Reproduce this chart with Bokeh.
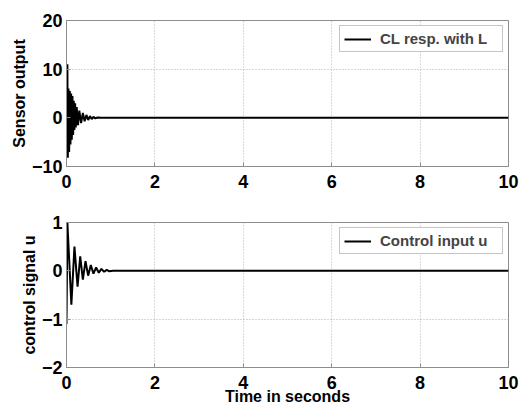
from bokeh.plotting import figure
from bokeh.layouts import column
from bokeh.models import Legend, LegendItem, FixedTicker
from bokeh.embed import file_html
from bokeh.resources import INLINE

# ---- data ----
t_sensor = [0.0, 0.01, 0.02, 0.03, 0.045, 0.06, 0.075, 0.09, 0.105, 0.12, 0.135, 0.15, 0.165,
            0.18, 0.195, 0.21, 0.23, 0.26, 0.29, 0.33, 0.37, 0.41, 0.45, 0.49, 0.53,
            0.57, 0.61, 0.65, 0.70, 0.80, 10.0]
y_sensor = [0.0, 5.0, 11.0, -8.2, 6.0, -7.0, 5.5, -5.5, 5.0, -4.5, 4.5, -3.5, 3.5,
            -2.5, 3.0, -2.0, 2.2, -1.5, 1.5, -1.1, 1.0, -0.7, 0.6, -0.45, 0.35,
            -0.25, 0.2, -0.12, 0.06, 0.0, 0.0]

t_u = [0.0, 0.02, 0.11, 0.18, 0.25, 0.31, 0.37, 0.43, 0.49, 0.55, 0.61, 0.67,
       0.73, 0.79, 0.85, 0.91, 0.97, 1.05, 10.0]
y_u = [-1.1, 1.0, -0.7, 0.5, -0.33, 0.3, -0.18, 0.2, -0.1, 0.12, -0.06, 0.07,
       -0.04, 0.04, -0.02, 0.02, -0.01, 0.0, 0.0]

x_ticks = [0, 2, 4, 6, 8, 10]
y1_ticks = [-10, 0, 10, 20]
y2_ticks = [-2, -1, 0, 1]

FONT = "Liberation Sans"
GRAY = "#8c8c8c"


def style(p, yticks, ylabel, xlabel=None):
    p.xaxis.ticker = FixedTicker(ticks=x_ticks)
    p.yaxis.ticker = FixedTicker(ticks=yticks)
    for ax in (p.xaxis[0], p.yaxis[0]):
        ax.major_label_text_font = FONT
        ax.major_label_text_font_style = "bold"
        ax.major_label_text_font_size = "18px"
        ax.major_label_text_color = "black"
        ax.axis_line_color = GRAY
        ax.major_tick_line_color = GRAY
        ax.major_tick_in = 4
        ax.major_tick_out = 0
        ax.minor_tick_line_color = None
        ax.axis_label_text_font = FONT
        ax.axis_label_text_font_style = "bold"
        ax.axis_label_text_font_size = "16px"
        ax.axis_label_text_color = "black"
    p.xaxis.major_label_standoff = 8
    p.yaxis.major_label_standoff = 4
    p.yaxis.axis_label = ylabel
    p.yaxis.axis_label_standoff = 1
    if xlabel:
        p.xaxis.axis_label = xlabel
        p.xaxis.axis_label_standoff = -4
    p.grid.grid_line_color = "#b0b0b0"
    p.grid.grid_line_dash = "1 2"
    p.grid.grid_line_width = 1
    p.outline_line_color = GRAY
    p.outline_line_width = 1
    p.background_fill_color = "white"
    p.border_fill_color = "white"


p1 = figure(width=521, height=200, x_range=(0, 10), y_range=(-10, 20),
            output_backend="svg", toolbar_location=None,
            min_border_left=66, min_border_right=13, min_border_top=20, min_border_bottom=34)
r1 = p1.line(t_sensor, y_sensor, line_color="black", line_width=2)
style(p1, y1_ticks, "Sensor output")

p2 = figure(width=521, height=209, x_range=(0, 10), y_range=(-2, 1),
            output_backend="svg", toolbar_location=None,
            min_border_left=66, min_border_right=13, min_border_top=22, min_border_bottom=42)
r2 = p2.line(t_u, y_u, line_color="black", line_width=2)
style(p2, y2_ticks, "control signal u", "Time in seconds")

for p, r, lab in ((p1, r1, "CL resp. with L"), (p2, r2, "Control input u")):
    leg = Legend(items=[LegendItem(label=lab, renderers=[r])], location="top_right")
    leg.label_text_font = FONT
    leg.label_text_font_style = "bold"
    leg.label_text_font_size = "15px"
    leg.border_line_color = GRAY
    leg.border_line_width = 1
    leg.margin = 5
    leg.padding = 4
    leg.spacing = 0
    leg.glyph_width = 27
    leg.glyph_height = 14
    leg.label_standoff = 9
    leg.label_height = 14
    leg.label_width = 118
    leg.background_fill_alpha = 1
    p.add_layout(leg)

layout = column(p1, p2, spacing=0)
open("out.html", "w").write(file_html(layout, INLINE))
